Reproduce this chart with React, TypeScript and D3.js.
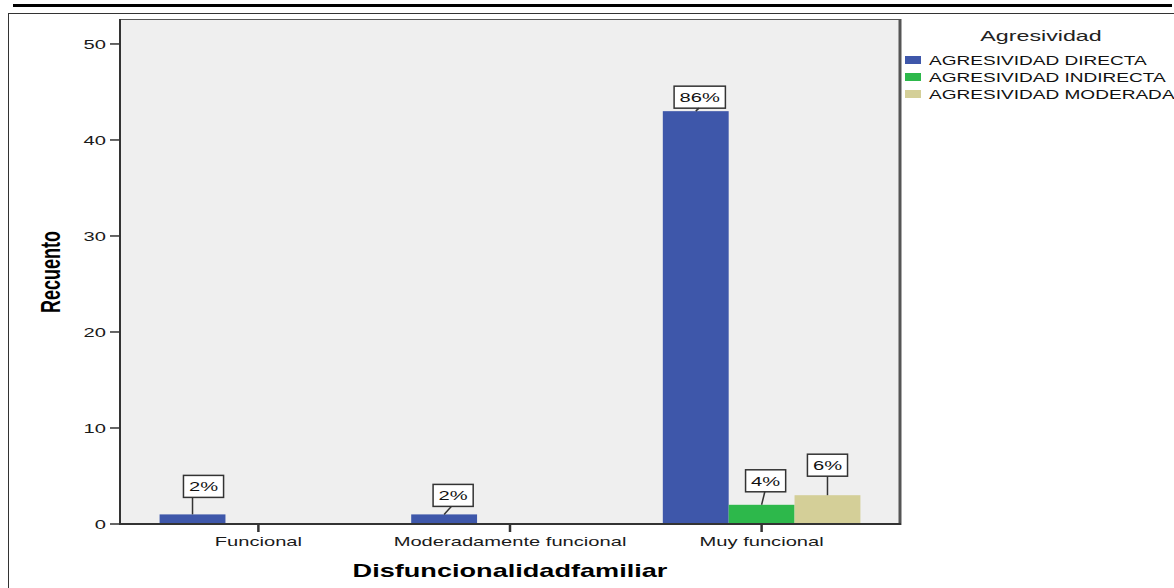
import React, { useEffect, useRef } from 'react';
import * as d3 from 'd3';

// data
const categories = ['Funcional', 'Moderadamente funcional', 'Muy funcional'];
const seriesNames = ['AGRESIVIDAD DIRECTA', 'AGRESIVIDAD INDIRECTA', 'AGRESIVIDAD MODERADA'];
const directa = [1, 1, 43];
const indirecta = [0, 0, 2];
const moderada = [0, 0, 3];
const directaPct = ['2%', '2%', '86%'];
const indirectaPct = ['', '', '4%'];
const moderadaPct = ['', '', '6%'];
const yTicks = [0, 10, 20, 30, 40, 50];

const colors = ['#3e57aa', '#2db84b', '#d4cf98'];
const W = 1174;
const H = 588;
// the source image is stretched horizontally, text follows that
const SX = 1.55;
const FONT = 'Liberation Sans, Arial, sans-serif';

// label box nudges [dx, lift above bar] to follow the reference placement
const labelNudge: Record<string, [number, number]> = {
  '0-0': [11, 17],
  '1-0': [9, 8],
  '2-0': [4, 3],
  '2-1': [4, 13],
  '2-2': [0, 19],
};

const App = () => {
  const ref = useRef<SVGSVGElement>(null);

  useEffect(() => {
    const svg = d3.select(ref.current);
    svg.selectAll('*').remove();

    const values = [directa, indirecta, moderada];
    const pcts = [directaPct, indirectaPct, moderadaPct];
    const left = 120, right = 900, top = 19, bottom = 524;

    const x = d3.scaleBand().domain(categories).range([left, right]).paddingInner(0).paddingOuter(0.05);
    const xs = d3.scaleBand().domain(seriesNames).range([0, x.bandwidth()]).paddingInner(0).paddingOuter(0.41);
    const y = d3.scaleLinear().domain([0, 52.6]).range([bottom, top]);

    const stretchText = (g: any, tx: number, ty: number, txt: string, size: number, opts: any = {}) => {
      const t = g
        .append('text')
        .attr('transform', `translate(${tx},${ty}) scale(${SX},1)${opts.rotate ? ' rotate(-90)' : ''}`)
        .attr('font-family', FONT)
        .attr('font-size', size)
        .attr('font-weight', opts.bold ? 'bold' : 'normal')
        .attr('text-anchor', opts.anchor || 'start')
        .attr('fill', opts.fill || '#1a1a1a')
        .text(txt);
      if (opts.dy) t.attr('dy', opts.dy);
      return t;
    };

    // page decorations
    svg.append('line').attr('x1', 13).attr('x2', 1172).attr('y1', 5.5).attr('y2', 5.5)
      .attr('stroke', '#000').attr('stroke-width', 3);
    svg.append('rect').attr('x', 8.5).attr('y', 13.5).attr('width', W).attr('height', H)
      .attr('fill', 'none').attr('stroke', '#333').attr('stroke-width', 1);

    // plot area
    svg.append('rect').attr('x', left).attr('y', top).attr('width', right - left).attr('height', bottom - top)
      .attr('fill', '#efefef');

    const bars = svg.append('g');
    categories.forEach((c, ci) => {
      values.forEach((vals, si) => {
        const v = vals[ci];
        if (!v) return;
        bars.append('rect')
          .attr('x', x(c)! + xs(seriesNames[si])!)
          .attr('y', y(v))
          .attr('width', xs.bandwidth())
          .attr('height', y(0) - y(v))
          .attr('fill', colors[si]);
      });
    });

    // frame
    svg.append('line').attr('x1', left).attr('x2', right).attr('y1', top + 0.5).attr('y2', top + 0.5)
      .attr('stroke', '#555').attr('stroke-width', 1);
    svg.append('line').attr('x1', right).attr('x2', right).attr('y1', top).attr('y2', bottom + 1)
      .attr('stroke', '#555').attr('stroke-width', 3);
    svg.append('line').attr('x1', left).attr('x2', right + 1).attr('y1', bottom).attr('y2', bottom)
      .attr('stroke', '#333').attr('stroke-width', 2);
    svg.append('line').attr('x1', left).attr('x2', left).attr('y1', top).attr('y2', bottom + 1)
      .attr('stroke', '#333').attr('stroke-width', 2);

    // y axis
    const ya = svg.append('g');
    yTicks.forEach((t) => {
      ya.append('line').attr('x1', 110).attr('x2', left).attr('y1', y(t)).attr('y2', y(t))
        .attr('stroke', '#333').attr('stroke-width', 1.5);
      stretchText(ya, 106, y(t), String(t), 13, { anchor: 'end', dy: '0.36em' });
    });

    // x axis
    const xa = svg.append('g');
    categories.forEach((c) => {
      const cx = x(c)! + x.bandwidth() / 2;
      xa.append('line').attr('x1', cx).attr('x2', cx).attr('y1', bottom).attr('y2', bottom + 8)
        .attr('stroke', '#333').attr('stroke-width', 2.5);
      stretchText(xa, cx, 546, c, 13, { anchor: 'middle' });
    });

    // axis titles
    stretchText(svg, 510, 577, 'Disfuncionalidadfamiliar', 17.5, { anchor: 'middle', bold: true, fill: '#000' });
    stretchText(svg, 50, 272, 'Recuento', 18, { anchor: 'middle', bold: true, rotate: true, dy: '0.35em', fill: '#000' });

    // percentage labels
    const lab = svg.append('g');
    categories.forEach((c, ci) => {
      pcts.forEach((p, si) => {
        const txt = p[ci];
        if (!txt) return;
        const [dx, lift] = labelNudge[`${ci}-${si}`] || [0, 12];
        const bx = x(c)! + xs(seriesNames[si])! + xs.bandwidth() / 2;
        const by = y(values[si][ci]);
        const boxH = 22;
        const cx = bx + dx;
        const boxBottom = by - lift;
        const t = stretchText(lab, cx, boxBottom - 6, txt, 13, { anchor: 'middle', fill: '#111' });
        const tw = (t.node() as SVGTextElement).getComputedTextLength() * SX;
        const bw = tw + 11;
        lab.insert('rect', 'text')
          .attr('x', cx - bw / 2).attr('y', boxBottom - boxH).attr('width', bw).attr('height', boxH)
          .attr('fill', '#fff').attr('stroke', '#333').attr('stroke-width', 1.5);
        const lx = Math.max(cx - bw / 2 + 8, Math.min(bx + dx * 0.8, cx + bw / 2 - 8));
        lab.append('line').attr('x1', bx).attr('y1', by).attr('x2', ci === 0 ? bx : lx).attr('y2', boxBottom)
          .attr('stroke', '#333').attr('stroke-width', 1.5);
      });
    });

    // legend
    const lg = svg.append('g');
    stretchText(lg, 1041, 41, 'Agresividad', 15, { anchor: 'middle', fill: '#222' });
    seriesNames.forEach((s, i) => {
      const yy = 56 + i * 17;
      lg.append('rect').attr('x', 905).attr('y', yy).attr('width', 16).attr('height', 8).attr('fill', colors[i]);
      stretchText(lg, 929, yy + 8.5, s, 12.3, { fill: '#111' });
    });
  }, []);

  return (
    <svg
      ref={ref}
      width={W}
      height={H}
      style={{ position: 'absolute', left: 0, top: 0, background: '#fff' }}
    />
  );
};

export default App;
